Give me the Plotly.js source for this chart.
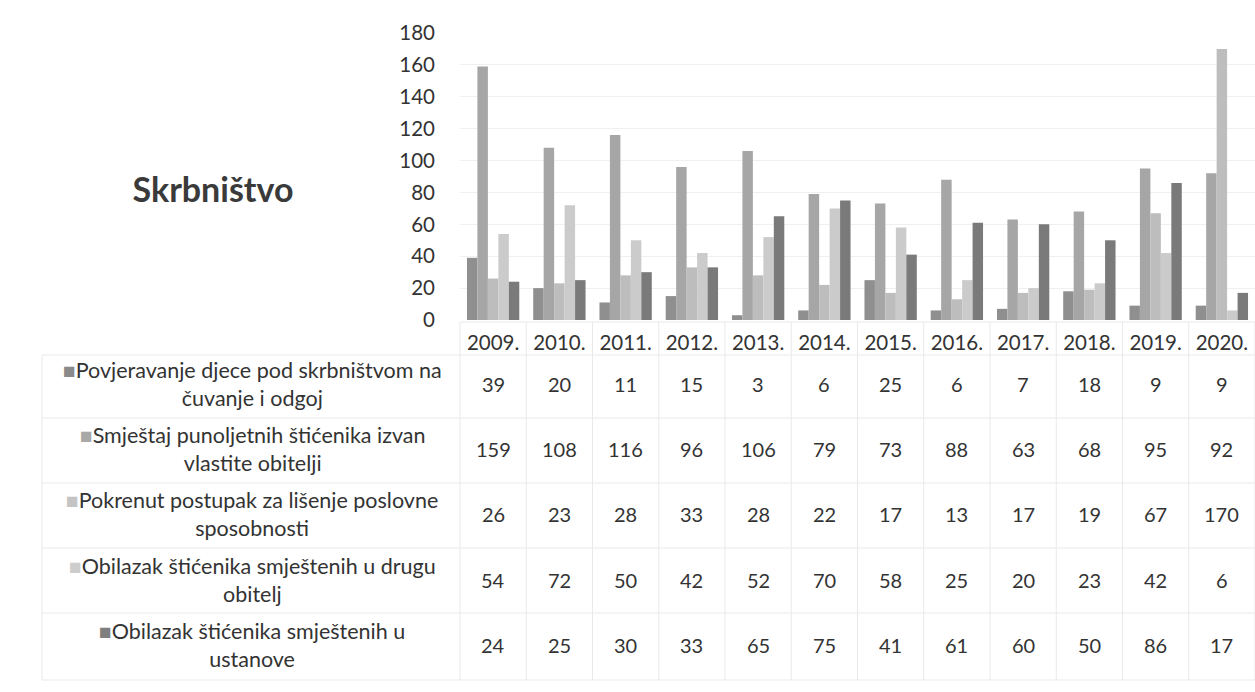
<!DOCTYPE html>
<html>
<head>
<meta charset="utf-8">
<script src="https://cdn.plot.ly/plotly-3.0.1.min.js"></script>
<style>html,body{margin:0;padding:0;background:#fff;}#chart{width:1255px;height:692px;}</style>
</head>
<body>
<div id="chart"></div>
<script>
// ---- data ----
const years = ['2009.','2010.','2011.','2012.','2013.','2014.','2015.','2016.','2017.','2018.','2019.','2020.'];
const seriesNames = [
  'Povjeravanje djece pod skrbništvom na<br>čuvanje i odgoj',
  'Smještaj punoljetnih štićenika izvan<br>vlastite obitelji',
  'Pokrenut postupak za lišenje poslovne<br>sposobnosti',
  'Obilazak štićenika smještenih u drugu<br>obitelj',
  'Obilazak štićenika smještenih u<br>ustanove'
];
const povjeravanje = [39,20,11,15,3,6,25,6,7,18,9,9];
const smjestaj     = [159,108,116,96,106,79,73,88,63,68,95,92];
const pokrenut     = [26,23,28,33,28,22,17,13,17,19,67,170];
const obilazakObit = [54,72,50,42,52,70,58,25,20,23,42,6];
const obilazakUst  = [24,25,30,33,65,75,41,61,60,50,86,17];
const yTicks = [0,20,40,60,80,100,120,140,160,180];

const series = [povjeravanje, smjestaj, pokrenut, obilazakObit, obilazakUst];
const colors = ['#8f8f8f','#a6a6a6','#bdbdbd','#cbcbcb','#7a7a7a'];
const keyColors = ['#8a8a8a','#a8a8a8','#c4c4c4','#cdcdcd','#7f7f7f'];

const FONT = 'Lato, "Open Sans", sans-serif';
const TXT = '#333333';

// geometry (pixels)
const W = 1255, H = 692, L = 460, R = 0, T = 33, B = 372;
const plotH = H - T - B;
const plotW = W - L - R;
const py = p => (H - B - p) / plotH;   // pixel y -> paper y
const px = p => (p - L) / plotW;       // pixel x -> paper x
const rowCenters = [384, 449, 514, 580, 645];
const rowLines = [322, 355, 418, 483, 548, 613, 680];

const traces = series.map((s, i) => ({
  type: 'bar', x: years, y: s, name: seriesNames[i],
  marker: {color: colors[i], line: {width: 0}},
  hoverinfo: 'x+y', showlegend: false
}));

const annotations = [];
const shapes = [];
series.forEach((s, i) => {
  const yc = py(rowCenters[i]);
  s.forEach((v, j) => {
    annotations.push({xref: 'paper', yref: 'paper', x: (j + 0.5) / years.length, y: yc, text: String(v),
      showarrow: false, font: {family: FONT, size: 20, color: TXT}, xanchor: 'center', yanchor: 'middle'});
  });
  annotations.push({xref: 'paper', yref: 'paper', x: px(252), y: yc,
    text: '<span style="color:' + keyColors[i] + ';font-size:21px">■</span>' + seriesNames[i],
    showarrow: false, align: 'center', font: {family: FONT, size: 21.5, color: TXT},
    xanchor: 'center', yanchor: 'middle'});
});

// table grid lines
rowLines.forEach((p, k) => {
  shapes.push({type: 'line', xref: 'paper', yref: 'paper',
    x0: k === 0 ? 0 : px(42), x1: 1, y0: py(p), y1: py(p),
    line: {color: '#e9e9e9', width: 1}});
});
for (let k = 0; k <= years.length; k++) {
  shapes.push({type: 'line', xref: 'paper', yref: 'paper', x0: k / years.length, x1: k / years.length,
    y0: py(rowLines[0]), y1: py(rowLines[rowLines.length - 1]),
    line: {color: '#e9e9e9', width: 1}});
}
shapes.push({type: 'line', xref: 'paper', yref: 'paper', x0: px(42), x1: px(42),
  y0: py(rowLines[1]), y1: py(rowLines[rowLines.length - 1]), line: {color: '#e9e9e9', width: 1}});

const layout = {
  width: W, height: H,
  margin: {l: L, r: R, t: T, b: B, pad: 0},
  paper_bgcolor: '#ffffff', plot_bgcolor: '#ffffff',
  title: {text: '<b>Skrbništvo</b>', xref: 'container', yref: 'container',
    x: 213 / W, y: 1 - 190 / H, xanchor: 'center', yanchor: 'middle',
    font: {family: FONT, size: 34, color: '#3a3a3a'}},
  barmode: 'group', bargap: 0.21, bargroupgap: 0,
  xaxis: {type: 'category', range: [-0.5, 11.5], showgrid: false, zeroline: false,
    showline: false, ticks: '', ticklabelstandoff: 8,
    tickfont: {family: FONT, size: 20.5, color: TXT}},
  yaxis: {range: [0, 180], tickvals: yTicks, showgrid: true, gridcolor: '#f0f0f0',
    zeroline: false, showline: false, ticks: '', ticklabelstandoff: 24,
    tickfont: {family: FONT, size: 20.5, color: TXT}},
  annotations: annotations, shapes: shapes,
  showlegend: false, font: {family: FONT, color: TXT}
};

Plotly.newPlot('chart', traces, layout, {displayModeBar: false, staticPlot: true});
</script>
</body>
</html>
